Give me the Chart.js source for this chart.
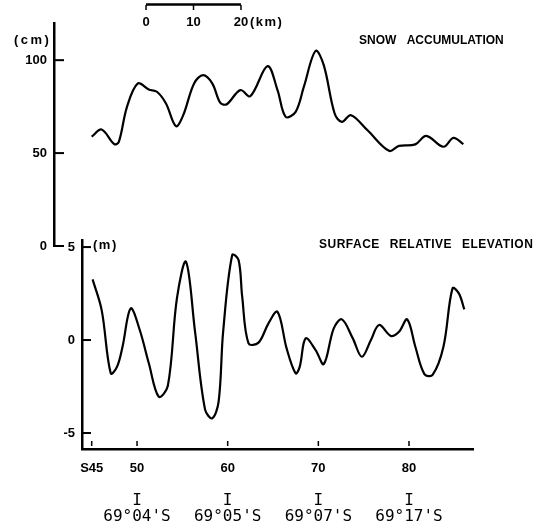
<!DOCTYPE html>
<html>
<head>
<meta charset="utf-8">
<script src="https://cdn.jsdelivr.net/npm/chart.js@4.4.1/dist/chart.umd.min.js"></script>
<style>
    html, body { margin: 0; padding: 0; background: #fff; }
    #wrap { position: relative; width: 534px; height: 528px; }
    #wrap canvas { position: absolute; left: 0; top: 0; }
</style>
</head>
<body>
<div id="wrap">
    <canvas id="snowChart" width="534" height="528"></canvas>
    <canvas id="elevChart" width="534" height="528"></canvas>
</div>
<script>
// snow accumulation (cm) along the station line
const snowStations = [45, 46.1, 47.5, 48, 48.9, 50.1, 51.3, 52.2, 53.2, 54.3, 55.1, 56.3, 57.3, 58.3, 59.2, 59.9,
    61.4, 62.5, 64.4, 65.5, 66.4, 67.5, 68.4, 69.7, 70.6, 71.8, 72.6, 73.6, 75.4, 77.8, 78.9, 80.7, 81.9, 83.8, 84.9, 86]
const snowCm = [58.8, 62.7, 54.8, 56, 74.9, 87.5, 84.2, 83, 76.7, 64.5, 70.4, 87.5, 91.9, 87.5, 77, 76.3,
    83.9, 80.6, 96.8, 83.9, 69.5, 72.2, 85.6, 105, 97.3, 71.3, 66.8, 70.4, 62.4, 51.2, 53.9, 54.7, 59.3, 53.4, 58.2, 54.8]

// surface relative elevation (m)
const elevStations = [45.1, 46.1, 47.1, 47.8, 48.4, 49.3, 50.3, 51.3, 52.4, 53.4, 54.4, 55.4, 56.4, 57.5, 58.3, 59,
    59.5, 60.5, 61.2, 61.6, 62.3, 63.4, 64.5, 65.5, 66.5, 67.5, 67.95, 68.6, 69.7, 70.6, 71.7, 72.6, 73.8, 74.8,
    75.8, 76.7, 78, 78.9, 79.8, 80.7, 81.7, 82.6, 83.8, 84.8, 85.5, 86.1]
const elevM = [3.26, 1.61, -1.79, -1.43, -0.36, 1.7, 0.54, -1.25, -3.05, -2.46, 2.24, 4.21, 0.45, -3.73, -4.21, -3.31,
    0.45, 4.57, 4.3, 2.33, -0.18, -0.14, 0.9, 1.52, -0.45, -1.79, -1.43, 0.09, -0.54, -1.29, 0.63, 1.11, 0.09, -0.9,
    0, 0.81, 0.22, 0.45, 1.11, -0.36, -1.83, -1.88, -0.36, 2.78, 2.51, 1.65]

const stationTicks = [45, 50, 60, 70, 80]
const latitudeTicks = [50, 60, 70, 80]
const latitudeLabels = ['69°04\'S', '69°05\'S', '69°07\'S', '69°17\'S']
const snowTicks = [0, 50, 100]
const elevTicks = [-5, 0, 5]
const scaleBarKm = [0, 10, 20]
const scaleBarStart = 51.0
const kmPerStation = 1.91

const labelFont = { family: 'Liberation Sans', size: 13, weight: 'bold' }

const toPoints = (xs, ys) => xs.map((x, i) => ({ x: x, y: ys[i] }))

// short tick marks drawn inward from the axis lines
const innerTicks = {
    id: 'innerTicks',
    afterDraw (chart, args, opts) {
        const ctx = chart.ctx
        const area = chart.chartArea
        ctx.save()
        ctx.strokeStyle = '#000'
        ctx.lineWidth = 2
        chart.scales.y.ticks.forEach(t => {
            const py = chart.scales.y.getPixelForValue(t.value)
            ctx.beginPath()
            ctx.moveTo(area.left, py)
            ctx.lineTo(area.left + opts.yLen, py)
            ctx.stroke()
        })
        if (opts.xTicks) {
            ctx.lineWidth = 1.5
            chart.scales.x.ticks.forEach(t => {
                const px = chart.scales.x.getPixelForValue(t.value)
                ctx.beginPath()
                ctx.moveTo(px, area.bottom - 8)
                ctx.lineTo(px, area.bottom - 3)
                ctx.stroke()
            })
        }
        ctx.restore()
    }
}

const notes = {
    id: 'notes',
    afterDraw (chart, args, opts) {
        const ctx = chart.ctx
        ctx.save()
        ctx.fillStyle = '#000'
        ctx.textBaseline = 'alphabetic'
        ;(opts.items || []).forEach(n => {
            ctx.font = n.font
            ctx.letterSpacing = n.spacing || '0px'
            ctx.wordSpacing = n.words || '0px'
            ctx.textAlign = n.align || 'left'
            ctx.fillText(n.text, n.x, n.y)
        })
        ctx.restore()
    }
}

// km scale bar labels above the snow panel
const scaleBarLabels = {
    id: 'scaleBarLabels',
    afterDraw (chart) {
        const ctx = chart.ctx
        const xs = chart.scales.x
        ctx.save()
        ctx.fillStyle = '#000'
        ctx.strokeStyle = '#000'
        ctx.lineWidth = 1.5
        ctx.font = 'bold 13px "Liberation Sans"'
        ctx.textAlign = 'center'
        scaleBarKm.forEach(km => {
            const px = xs.getPixelForValue(scaleBarStart + km / kmPerStation)
            ctx.beginPath()
            ctx.moveTo(px, 5)
            ctx.lineTo(px, 10)
            ctx.stroke()
            ctx.fillText(String(km), px, 26)
        })
        const end = xs.getPixelForValue(scaleBarStart + scaleBarKm[scaleBarKm.length - 1] / kmPerStation)
        ctx.textAlign = 'left'
        ctx.letterSpacing = '1.5px'
        ctx.fillText('(km)', end + 9, 26)
        ctx.restore()
    }
}

new Chart(document.getElementById('snowChart'), {
    type: 'line',
    data: {
        datasets: [
            {
                data: toPoints(snowStations, snowCm),
                borderColor: '#000',
                borderWidth: 2.2,
                pointRadius: 0,
                tension: 0.35,
                fill: false,
            }, {
                data: [
                    { x: scaleBarStart, y: 130 },
                    { x: scaleBarStart + scaleBarKm[scaleBarKm.length - 1] / kmPerStation, y: 130 },
                ],
                borderColor: '#000',
                borderWidth: 2.5,
                pointRadius: 0,
                clip: false,
            }],
    },
    options: {
        responsive: false,
        animation: false,
        devicePixelRatio: 1,
        layout: { padding: { top: 23, right: 61, bottom: 282, left: 0 } },
        plugins: {
            legend: { display: false },
            tooltip: { enabled: false },
            innerTicks: { yLen: 10 },
            notes: {
                items: [
                    { text: '(cm)', x: 14, y: 44, font: 'bold 13px "Liberation Sans"', spacing: '2.5px' },
                    { text: 'SNOW ACCUMULATION', x: 359, y: 44, font: 'bold 12px "Liberation Sans"', words: '7px' },
                ],
            },
        },
        scales: {
            x: {
                type: 'linear',
                display: false,
                min: 40.85,
                max: 87.06,
            },
            y: {
                type: 'linear',
                min: 0,
                max: 120,
                afterBuildTicks: (scale) => { scale.ticks = snowTicks.map(v => ({ value: v })) },
                afterFit: (scale) => { scale.width = 54 },
                grid: { drawOnChartArea: false, drawTicks: false },
                border: { display: true, color: '#000', width: 2.5 },
                ticks: { color: '#000', font: labelFont, padding: 7 },
            },
        },
    },
    plugins: [innerTicks, notes, scaleBarLabels],
})

new Chart(document.getElementById('elevChart'), {
    type: 'line',
    data: {
        datasets: [
            {
                data: toPoints(elevStations, elevM),
                borderColor: '#000',
                borderWidth: 2.2,
                pointRadius: 0,
                tension: 0.35,
                fill: false,
            }],
    },
    options: {
        responsive: false,
        animation: false,
        devicePixelRatio: 1,
        layout: { padding: { top: 240, right: 61, bottom: 0, left: 0 } },
        plugins: {
            legend: { display: false },
            tooltip: { enabled: false },
            innerTicks: { yLen: 9, xTicks: true },
            notes: {
                items: [
                    { text: '(m)', x: 93, y: 249, font: 'bold 13px "Liberation Sans"', spacing: '1.5px' },
                    { text: 'SURFACE RELATIVE ELEVATION', x: 319, y: 248, font: 'bold 12px "Liberation Sans"', spacing: '0.5px', words: '6px' },
                ],
            },
        },
        scales: {
            x: {
                type: 'linear',
                position: 'bottom',
                weight: 0,
                min: 43.93,
                max: 87.06,
                afterBuildTicks: (scale) => { scale.ticks = stationTicks.map(v => ({ value: v })) },
                afterFit: (scale) => { scale.height = 38 },
                grid: { drawOnChartArea: false, drawTicks: false },
                border: { display: true, color: '#000', width: 2.5 },
                ticks: {
                    color: '#000',
                    font: labelFont,
                    padding: 12,
                    autoSkip: false,
                    maxRotation: 0,
                    callback: (v) => (v === 45 ? 'S45' : String(v)),
                },
            },
            xLat: {
                type: 'linear',
                axis: 'x',
                position: 'bottom',
                weight: 1,
                min: 43.93,
                max: 87.06,
                afterBuildTicks: (scale) => { scale.ticks = latitudeTicks.map(v => ({ value: v })) },
                afterFit: (scale) => { scale.height = 41 },
                grid: { drawOnChartArea: false, drawTicks: false },
                border: { display: false },
                ticks: {
                    color: '#000',
                    font: { family: 'DejaVu Sans Mono', size: 16, lineHeight: 1.0 },
                    padding: 6,
                    autoSkip: false,
                    maxRotation: 0,
                    callback: (v, i) => ['I', latitudeLabels[i]],
                },
            },
            y: {
                type: 'linear',
                min: -5.86,
                max: 5.38,
                afterBuildTicks: (scale) => { scale.ticks = elevTicks.map(v => ({ value: v })) },
                afterFit: (scale) => { scale.width = 82 },
                grid: { drawOnChartArea: false, drawTicks: false },
                border: { display: true, color: '#000', width: 2.5 },
                ticks: { color: '#000', font: labelFont, padding: 7 },
            },
        },
    },
    plugins: [innerTicks, notes],
})
</script>
</body>
</html>
